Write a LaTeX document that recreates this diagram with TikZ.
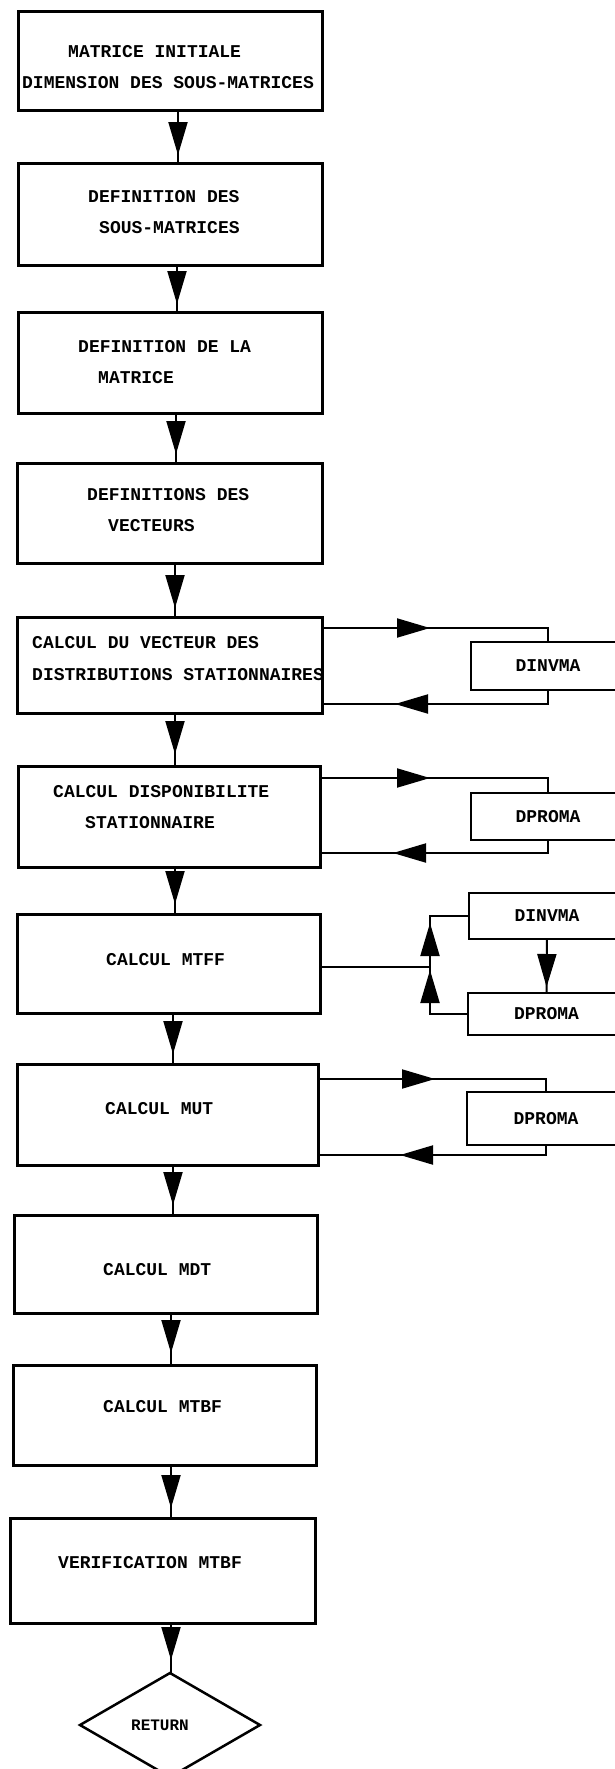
\documentclass[tikz,border=0pt]{standalone}
\usepackage{fontspec}
\newfontfamily\tw{Liberation Mono}
\usetikzlibrary{arrows.meta,decorations.markings,shapes.geometric}
\tikzset{
  box/.style={draw, line width=3pt, inner sep=0pt, outer sep=0pt},
  subbox/.style={draw, line width=2.5pt, inner sep=0pt, outer sep=0pt,
    font=\tw\bfseries\fontsize{18}{20}\selectfont},
  txt/.style={anchor=west, inner sep=0pt, font=\tw\bfseries\fontsize{18}{20}\selectfont},
  conn/.style={line width=2pt},
  tipat/.style={postaction={decorate}, decoration={markings,
      mark=at position #1 with {\arrow{Triangle[length=33pt,width=19pt]}}}},
}
\begin{document}
\begin{tikzpicture}[x=1pt,y=-1pt]
\useasboundingbox (0,0) rectangle (615,1769);
\fill[white] (0,0) rectangle (615,1769);
\begin{scope}
\clip (0,0) rectangle (615,1769);
% main boxes
\node[box, minimum width=304pt, minimum height=98pt]  (B1)  at (170,61) {};
\node[box, minimum width=304pt, minimum height=102pt] (B2)  at (170,214) {};
\node[box, minimum width=304pt, minimum height=101pt] (B3)  at (170,362.5) {};
\node[box, minimum width=305pt, minimum height=100pt] (B4)  at (169.5,513) {};
\node[box, minimum width=305pt, minimum height=96pt]  (B5)  at (169.5,665) {};
\node[box, minimum width=302pt, minimum height=101pt] (B6)  at (169,816.5) {};
\node[box, minimum width=303pt, minimum height=99pt]  (B7)  at (168.5,963.5) {};
\node[box, minimum width=301pt, minimum height=101pt] (B8)  at (167.5,1114.5) {};
\node[box, minimum width=303pt, minimum height=98pt]  (B9)  at (165.5,1264) {};
\node[box, minimum width=303pt, minimum height=100pt] (B10) at (164.5,1415) {};
\node[box, minimum width=305pt, minimum height=105pt] (B11) at (162.5,1570.5) {};
\node[draw, diamond, line width=2.5pt, inner sep=0pt, outer sep=0pt,
      minimum width=180pt, minimum height=104pt] (D) at (170,1725) {};
% texts
\node[txt] (t1a) at (68,52) {MATRICE INITIALE};
\node[txt] (t1b) at (22,83) {DIMENSION DES SOUS-MATRICES};
\node[txt] (t2a) at (88,197) {DEFINITION DES};
\node[txt] (t2b) at (99,228) {SOUS-MATRICES};
\node[txt] (t3a) at (78,347) {DEFINITION DE LA};
\node[txt] (t3b) at (98,378) {MATRICE};
\node[txt] (t4a) at (87,495) {DEFINITIONS DES};
\node[txt] (t4b) at (108,526) {VECTEURS};
\node[txt] (t5a) at (32,643) {CALCUL DU VECTEUR DES};
\node[txt] (t5b) at (32,675) {DISTRIBUTIONS STATIONNAIRES};
\node[txt] (t6a) at (53,792) {CALCUL DISPONIBILITE};
\node[txt] (t6b) at (85,823) {STATIONNAIRE};
\node[txt] (t7) at (106,960) {CALCUL MTFF};
\node[txt] (t8) at (105,1109) {CALCUL MUT};
\node[txt] (t9) at (103,1270) {CALCUL MDT};
\node[txt] (t10) at (103,1407) {CALCUL MTBF};
\node[txt] (t11) at (58,1563) {VERIFICATION MTBF};
\node[txt, anchor=center, font=\tw\bfseries\fontsize{16}{18}\selectfont] (tR) at (160,1725) {RETURN};
% side boxes
\node[subbox, minimum width=154pt, minimum height=48pt] (S1) at (548,666) {DINVMA};
\node[subbox, minimum width=154pt, minimum height=47pt] (S2) at (548,816.5) {DPROMA};
\node[subbox, minimum width=156pt, minimum height=46pt] (S3) at (547,916) {DINVMA};
\node[subbox, minimum width=157pt, minimum height=42pt] (S4) at (546.5,1014) {DPROMA};
\node[subbox, minimum width=158pt, minimum height=53pt] (S5) at (546,1118.5) {DPROMA};
% main flow
\draw[conn, tipat=-8pt] ([xshift=8pt]B1.south) -- ([xshift=8pt]B2.north);
\draw[conn, tipat=-8pt] ([xshift=7pt]B2.south) -- ([xshift=7pt]B3.north);
\draw[conn, tipat=-9pt] ([xshift=6pt]B3.south) -- ([xshift=6.5pt]B4.north);
\draw[conn, tipat=-9pt] ([xshift=5.5pt]B4.south) -- ([xshift=5.5pt]B5.north);
\draw[conn, tipat=-12pt] ([xshift=5.5pt]B5.south) -- ([xshift=6pt]B6.north);
\draw[conn, tipat=-10pt] ([xshift=6pt]B6.south) -- ([xshift=6.5pt]B7.north);
\draw[conn, tipat=-10pt] ([xshift=4.5pt]B7.south) -- ([xshift=5.5pt]B8.north);
\draw[conn, tipat=-10pt] ([xshift=5.5pt]B8.south) -- ([xshift=7.5pt]B9.north);
\draw[conn, tipat=-12pt] ([xshift=5.5pt]B9.south) -- ([xshift=6.5pt]B10.north);
\draw[conn, tipat=-10pt] ([xshift=6.5pt]B10.south) -- ([xshift=8.5pt]B11.north);
\draw[conn, tipat=-13pt] ([xshift=8.5pt]B11.south) -- ([xshift=1pt]D.north);
% group 1
\coordinate (o5) at (0,628);
\coordinate (r5) at (0,704);
\draw[conn, tipat=108pt] (B5.east |- o5) -- (S1.north |- o5) -- (S1.north);
\draw[conn, tipat=167pt] (S1.south) -- (S1.south |- r5) -- (B5.east |- r5);
% group 2
\coordinate (o6) at (0,778);
\coordinate (r6) at (0,853);
\draw[conn, tipat=110pt] (B6.east |- o6) -- (S2.north |- o6) -- (S2.north);
\draw[conn, tipat=168pt] (S2.south) -- (S2.south |- r6) -- (B6.east |- r6);
% group 3
\coordinate (j) at (430,967);
\coordinate (jt) at (430,916);
\coordinate (jb) at (430,1014);
\draw[conn, tipat=154pt] (B7.east |- j) -- (j) -- (jt) -- (S3.west);
\draw[conn, tipat=82pt] (S4.west) -- (jb) -- (j);
\draw[conn, tipat=-6pt] (S3.south) -- (S4.north);
% group 4
\coordinate (o8) at (0,1079);
\coordinate (r8) at (0,1155);
\draw[conn, tipat=117pt] (B8.east |- o8) -- (S5.north |- o8) -- (S5.north);
\draw[conn, tipat=156pt] (S5.south) -- (S5.south |- r8) -- (B8.east |- r8);
\end{scope}
\end{tikzpicture}
\end{document}
